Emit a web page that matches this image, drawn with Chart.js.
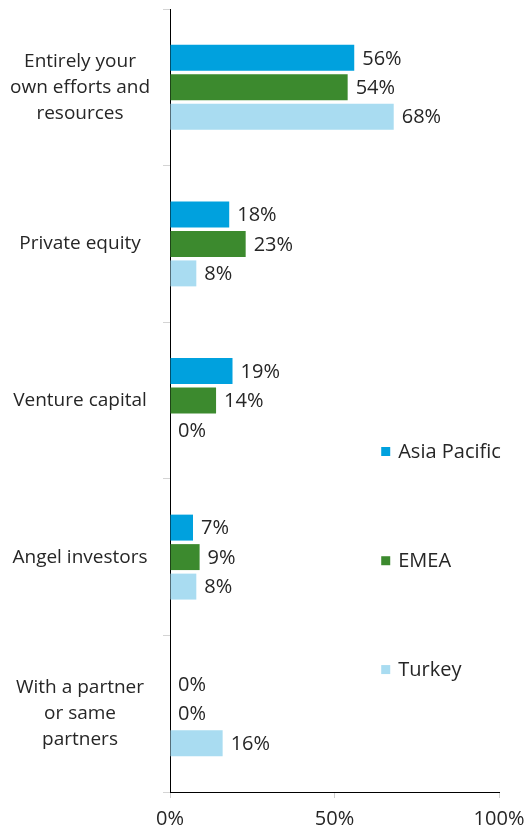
<!DOCTYPE html>
<html>
<head>
  <title>Funding sources</title>
  <script src="https://cdn.jsdelivr.net/npm/chart.js"></script>
  <style>
    body { margin: 0; background: #fff; }
    #wrap { width: 526px; height: 837px; position: relative; }
  </style>
</head>
<body>
  <div id="wrap"><canvas id="fundChart"></canvas></div>

  <script>
    // categories (multi-line labels as in the original)
    const categories = [
      ['Entirely your', 'own efforts and', 'resources'],
      ['Private equity'],
      ['Venture capital'],
      ['Angel investors'],
      ['With a partner', 'or same', 'partners']
    ];
    const seriesNames = ['Asia Pacific', 'EMEA', 'Turkey'];
    const asiaPacific = [56, 18, 19, 7, 0];
    const emea = [54, 23, 14, 9, 0];
    const turkey = [68, 8, 0, 8, 16];
    const xTicks = [0, 50, 100];

    const colors = ['#00a1de', '#3c8a2e', '#a9dcf1'];
    const FONT = "'Open Sans', sans-serif";
    const TEXT = '#262626';

    // bar value labels
    const valueLabels = {
      id: 'valueLabels',
      afterDatasetsDraw(chart) {
        const ctx = chart.ctx;
        ctx.save();
        ctx.font = '20px ' + FONT;
        ctx.fillStyle = TEXT;
        ctx.textAlign = 'left';
        ctx.textBaseline = 'middle';
        chart.data.datasets.forEach((ds, i) => {
          const meta = chart.getDatasetMeta(i);
          meta.data.forEach((bar, j) => {
            ctx.fillText(ds.data[j] + '%', bar.x + 8, bar.y + 1);
          });
        });
        ctx.restore();
      }
    };

    // legend floating inside the plot, like the original
    const legendRows = [0.5645, 0.704, 0.843];
    const sideLegend = {
      id: 'sideLegend',
      afterDraw(chart) {
        const ctx = chart.ctx;
        const area = chart.chartArea;
        const x = chart.scales.x.getPixelForValue(64.2);
        ctx.save();
        ctx.font = '20px ' + FONT;
        ctx.textAlign = 'left';
        ctx.textBaseline = 'middle';
        chart.data.datasets.forEach((ds, i) => {
          const y = area.top + (area.bottom - area.top) * legendRows[i];
          ctx.fillStyle = ds.backgroundColor;
          ctx.fillRect(x, y - 4, 9, 9);
          ctx.fillStyle = TEXT;
          ctx.fillText(ds.label, x + 17, y + 1);
        });
        ctx.restore();
      }
    };

    const seriesData = [asiaPacific, emea, turkey];

    new Chart(document.getElementById('fundChart'), {
      type: 'bar',
      data: {
        labels: categories,
        datasets: seriesNames.map((name, i) => ({
          label: name,
          data: seriesData[i],
          backgroundColor: colors[i],
          categoryPercentage: 0.565,
          barPercentage: 0.88
        }))
      },
      options: {
        indexAxis: 'y',
        responsive: true,
        maintainAspectRatio: false,
        animation: false,
        layout: { padding: { top: 9, right: 27, left: 0, bottom: 0 } },
        plugins: {
          legend: { display: false },
          tooltip: { enabled: false }
        },
        scales: {
          x: {
            min: 0,
            max: 100,
            afterBuildTicks(scale) {
              scale.ticks = xTicks.map(v => ({ value: v }));
            },
            afterFit(scale) {
              scale.height = 45;
              scale.paddingLeft = 0;
              scale.paddingRight = 0;
            },
            border: { color: '#000', width: 1 },
            grid: { drawOnChartArea: false, tickLength: 6, color: '#cfcfcf' },
            ticks: {
              color: TEXT,
              font: { family: FONT, size: 20 },
              padding: 9,
              maxRotation: 0,
              callback: v => v + '%'
            }
          },
          y: {
            afterFit(scale) {
              scale.width = 170;
              scale.paddingTop = 0;
              scale.paddingBottom = 0;
            },
            border: { color: '#000', width: 1 },
            grid: { drawOnChartArea: false, offset: true, tickLength: 7, color: '#d4d4d4' },
            ticks: {
              color: TEXT,
              font: { family: FONT, size: 19, lineHeight: 1.37 },
              crossAlign: 'center',
              padding: 13
            }
          }
        }
      },
      plugins: [valueLabels, sideLegend]
    });
  </script>
</body>
</html>
